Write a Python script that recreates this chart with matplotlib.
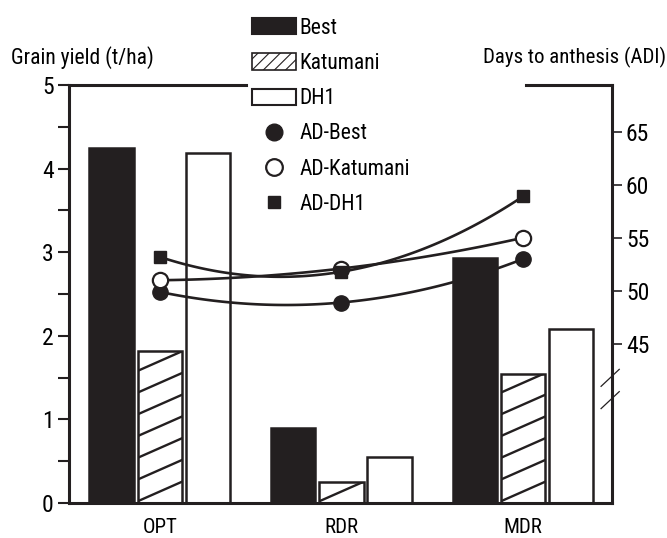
import numpy as np
import matplotlib
matplotlib.use('Agg')
import matplotlib.pyplot as plt
from matplotlib import font_manager
from matplotlib.patches import Patch
from matplotlib.lines import Line2D

# pick a narrow face if one is around
fonts = font_manager.fontManager.ttflist
names = {f.name for f in fonts}
family = 'DejaVu Sans'
for cand in ['Roboto Condensed', 'Liberation Sans Narrow', 'Open Sans Condensed', 'Noto Sans Condensed']:
    if cand in names:
        family = cand
        break
if family == 'DejaVu Sans':
    if any(f.name == 'DejaVu Sans' and f.stretch == 'condensed' for f in fonts):
        plt.rcParams['font.stretch'] = 'condensed'
plt.rcParams['font.family'] = [family, 'DejaVu Sans']
plt.rcParams['font.size'] = 15

ink = '#231f20'

# data
groups = ['OPT', 'RDR', 'MDR']
best = [4.25, 0.90, 2.93]
katumani = [1.82, 0.25, 1.54]
dh1 = [4.19, 0.55, 2.08]
ad_best = [49.9, 48.9, 53.0]
ad_katumani = [51.0, 52.1, 55.0]
ad_dh1 = [53.2, 51.8, 58.9]

fig = plt.figure(figsize=(6.67, 5.38), dpi=100)
ax = fig.add_axes([0.1034, 0.065, 0.8141, 0.777])
x = np.arange(len(groups))
w = 0.245
off = 0.265

ax.bar(x - off, best, w, color=ink, edgecolor=ink, lw=1.8, zorder=2)
kbars = ax.bar(x, katumani, w, color='white', edgecolor=ink, lw=1.8, zorder=2)
ax.bar(x + off, dh1, w, color='white', edgecolor=ink, lw=1.8, zorder=2)

# shallow diagonal hatch for Katumani, clipped to each bar
for b in kbars:
    x0 = b.get_x()
    for y0 in np.arange(-0.5, b.get_height() + 0.3, 0.26):
        ln, = ax.plot([x0, x0 + w], [y0, y0 + 0.235], color=ink, lw=1.7, zorder=3)
        ln.set_clip_path(b)

ax.set_xlim(-0.5, 2.49)
ax.set_ylim(0, 5)
ax.set_yticks([0, 1, 2, 3, 4, 5])
ax.set_yticks(np.arange(0.5, 5, 1), minor=True)
ax.tick_params(axis='y', which='both', direction='out', length=8, width=1.5, color=ink, labelsize=17, pad=3)
ax.set_xticks(x)
ax.set_xticklabels(groups)
ax.tick_params(axis='x', length=0, labelsize=15, pad=11)
for s in ['left', 'bottom', 'right']:
    ax.spines[s].set_linewidth(2.2)
    ax.spines[s].set_color(ink)
ax.spines['top'].set_visible(False)
ax.plot([0, 0.326], [1, 1], transform=ax.transAxes, color=ink, lw=2.2, clip_on=False, solid_capstyle='projecting')
ax.plot([0.842, 1], [1, 1], transform=ax.transAxes, color=ink, lw=2.2, clip_on=False, solid_capstyle='projecting')

ax2 = ax.twinx()
ax2.set_ylim(30, 69.4)
ax2.set_yticks([45, 50, 55, 60, 65])
ax2.tick_params(axis='y', direction='out', length=7, width=1.2, color=ink, labelsize=17, pad=3)
for s in ['left', 'bottom', 'right', 'top']:
    ax2.spines[s].set_visible(False)

# smooth curves through the three points
xs = np.linspace(0, 2, 100)
for vals in [ad_best, ad_katumani, ad_dh1]:
    c = np.polyfit(x, vals, 2)
    ax2.plot(xs, np.polyval(c, xs), color=ink, lw=1.9, zorder=3)
ax2.plot(x, ad_best, 'o', ms=11, mfc=ink, mec=ink, zorder=4)
ax2.plot(x, ad_katumani, 'o', ms=11, mfc='white', mec=ink, mew=1.6, zorder=4)
ax2.plot(x, ad_dh1, 's', ms=8, mfc=ink, mec=ink, zorder=4)

# axis break marks on the right axis
for yb in [41.8, 39.7]:
    ax2.plot([2.43, 2.53], [yb - 0.8, yb + 0.8], color=ink, lw=0.9, clip_on=False)

fig.text(0.016, 0.893, 'Grain yield (t/ha)', fontsize=15.5, va='center', ha='left')
fig.text(0.999, 0.893, 'Days to anthesis (ADI)', fontsize=15, va='center', ha='right')

handles = [
    Patch(facecolor=ink, edgecolor=ink, lw=1.5),
    Patch(facecolor='white', edgecolor=ink, lw=1.2, hatch='///'),
    Patch(facecolor='white', edgecolor=ink, lw=1.5),
    Line2D([], [], marker='o', ls='', ms=12, mfc=ink, mec=ink),
    Line2D([], [], marker='o', ls='', ms=12, mfc='white', mec=ink, mew=1.6),
    Line2D([], [], marker='s', ls='', ms=8, mfc=ink, mec=ink),
]
labels = ['Best', 'Katumani', 'DH1', 'AD-Best', 'AD-Katumani', 'AD-DH1']
plt.rcParams['hatch.linewidth'] = 0.8
leg = fig.legend(handles, labels, loc='upper left', bbox_to_anchor=(0.355, 0.995),
                 frameon=False, fontsize=15.5, handlelength=2.05, handleheight=0.78,
                 handletextpad=0.15, labelspacing=0.66, borderpad=0.2)

fig.savefig('out.png', dpi=100)
